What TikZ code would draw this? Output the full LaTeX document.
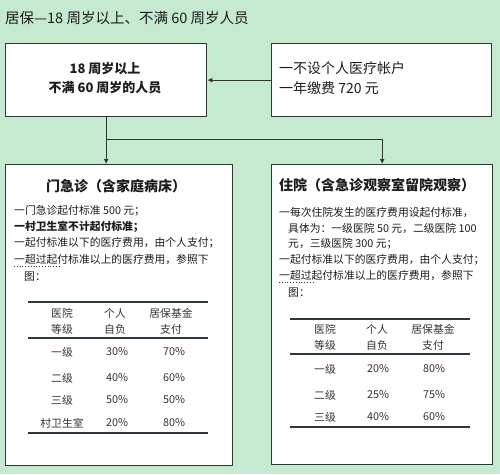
\documentclass[tikz,border=0pt]{standalone}
\usepackage{fontspec}
\setmainfont{Noto Sans CJK SC}
\usetikzlibrary{arrows.meta}
\definecolor{bg}{HTML}{C6EAD0}
\definecolor{ln}{HTML}{2B3A31}
\definecolor{tx}{HTML}{1C1C1C}
\definecolor{tb}{HTML}{333333}
\begin{document}
\begin{tikzpicture}[x=1pt,y=-1pt,
  box/.style={draw=ln, line width=1.3pt, fill=white, anchor=north west, inner sep=0pt},
  conn/.style={draw=ln, line width=1pt, -{Latex[length=5pt,width=5pt]}},
  body/.style={anchor=west, inner sep=0pt, text=tx, font=\fontsize{10.8}{12}\selectfont},
  cell/.style={anchor=center, inner sep=0pt, text=tb, font=\fontsize{10.8}{12}\selectfont},
  big/.style={anchor=west, inner sep=0pt, text=tx, font=\fontsize{14}{16}\selectfont},
  bigb/.style={inner sep=0pt, text=tx, font=\fontsize{14}{16}\selectfont\bfseries},
  midb/.style={anchor=center, inner sep=0pt, text=tx, font=\fontsize{13}{15}\selectfont\bfseries},
  rule/.style={draw=ln, line width=1.1pt},
  squig/.style={draw=ln, line width=0.8pt, dotted}
]
\fill[bg] (0,0) rectangle (500,474);
\useasboundingbox (0,0) rectangle (500,474);

% title
\node[big, font=\fontsize{14.5}{16}\selectfont] (title) at (5,18) {居保—18 周岁以上、不满 60 周岁人员};

% boxes
\node[box, minimum width=201pt, minimum height=73pt] (a) at (5,43) {};
\node[box, minimum width=220pt, minimum height=73pt] (b) at (271,43) {};
\node[box, minimum width=227pt, minimum height=301pt] (c) at (5,164) {};
\node[box, minimum width=221pt, minimum height=300pt] (d) at (271,164) {};

% connectors
\draw[conn] (b.west) -- (a.east);
\draw[conn] (a.south) -- (a.south |- c.north);
\coordinate (j) at ([yshift=-22pt]a.south);
\draw[conn] (j) -| (d.north);

% top-left text
\node[midb] (a1) at (105,69) {18 周岁以上};
\node[midb] (a2) at (105,88) {不满 60 周岁的人员};

% top-right text
\node[big] (b1) at (279,68) {一不设个人医疗帐户};
\node[big] (b2) at (279,88) {一年缴费 720 元};

% lower-left box
\node[bigb, anchor=center] (ct) at (116,186) {门急诊（含家庭病床）};
\node[body] (c1) at (14,211) {一门急诊起付标准 500 元；};
\node[body, font=\fontsize{10.8}{12}\selectfont\bfseries] (c2) at (14,227) {一村卫生室不计起付标准；};
\node[body] (c3) at (14,243) {一起付标准以下的医疗费用，由个人支付；};
\node[body] (c4) at (14,260) {一超过起付标准以上的医疗费用，参照下};
\node[body] (c5) at (24,277) {图：};
\draw[squig] (14,266) -- (60,266);

% left table
\draw[rule] (28,302) -- (208,302);
\draw[rule] (28,338) -- (208,338);
\draw[rule] (28,433) -- (208,433);
\node[cell] (lh11) at (62,313) {医院};
\node[cell] (lh12) at (62,329) {等级};
\node[cell] (lh21) at (115,313) {个人};
\node[cell] (lh22) at (115,329) {自负};
\node[cell] (lh31) at (171,313) {居保基金};
\node[cell] (lh32) at (171,329) {支付};
\node[cell] (l11) at (62,352) {一级};
\node[cell] (l12) at (117,352) {30\%};
\node[cell] (l13) at (174,352) {70\%};
\node[cell] (l21) at (62,378) {二级};
\node[cell] (l22) at (117,378) {40\%};
\node[cell] (l23) at (174,378) {60\%};
\node[cell] (l31) at (62,400) {三级};
\node[cell] (l32) at (117,400) {50\%};
\node[cell] (l33) at (174,400) {50\%};
\node[cell] (l41) at (62,423) {村卫生室};
\node[cell] (l42) at (117,423) {20\%};
\node[cell] (l43) at (174,423) {80\%};

% lower-right box
\node[bigb, anchor=west] (dt) at (279,185) {住院（含急诊观察室留院观察）};
\node[body] (d1) at (279,212) {一每次住院发生的医疗费用设起付标准，};
\node[body] (d2) at (288,228) {具体为：一级医院 50 元，二级医院 100};
\node[body] (d3) at (288,244) {元，三级医院 300 元；};
\node[body] (d4) at (279,260) {一起付标准以下的医疗费用，由个人支付；};
\node[body] (d5) at (279,276) {一超过起付标准以上的医疗费用，参照下};
\node[body] (d6) at (288,293) {图：};
\draw[squig] (279,282) -- (313,282);

% right table
\draw[rule] (290,319) -- (470,319);
\draw[rule] (290,354) -- (470,354);
\draw[rule] (290,427) -- (470,427);
\node[cell] (rh11) at (325,329) {医院};
\node[cell] (rh12) at (325,345) {等级};
\node[cell] (rh21) at (377,329) {个人};
\node[cell] (rh22) at (377,345) {自负};
\node[cell] (rh31) at (433,329) {居保基金};
\node[cell] (rh32) at (433,345) {支付};
\node[cell] (r11) at (325,369) {一级};
\node[cell] (r12) at (378,369) {20\%};
\node[cell] (r13) at (434,369) {80\%};
\node[cell] (r21) at (325,395) {二级};
\node[cell] (r22) at (378,395) {25\%};
\node[cell] (r23) at (434,395) {75\%};
\node[cell] (r31) at (325,417) {三级};
\node[cell] (r32) at (378,417) {40\%};
\node[cell] (r33) at (434,417) {60\%};
\end{tikzpicture}
\end{document}
